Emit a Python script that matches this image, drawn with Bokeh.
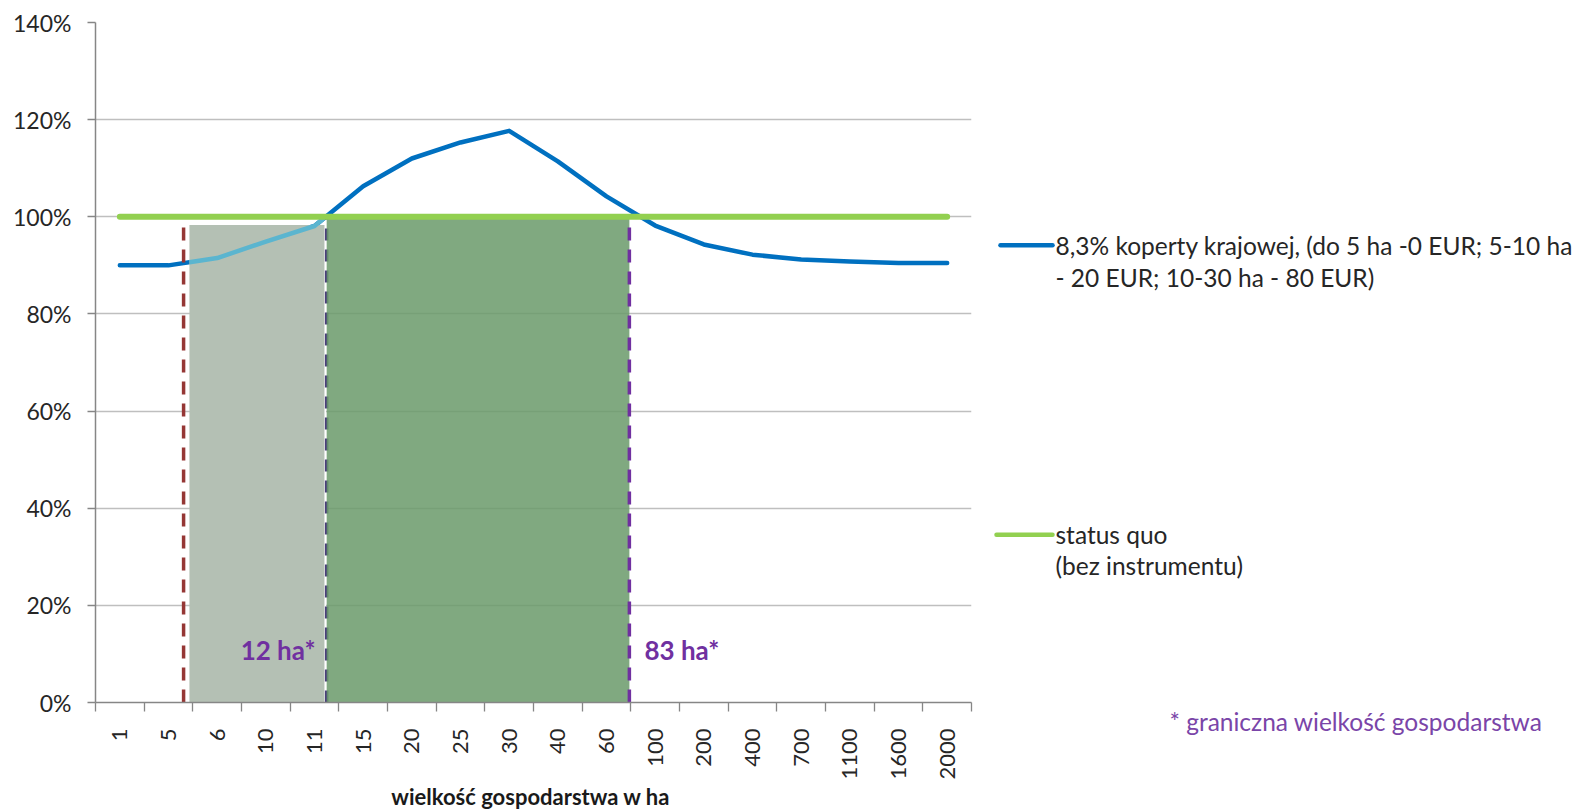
import numpy as np
from bokeh.plotting import figure
from bokeh.layouts import row
from bokeh.models import Range1d, FixedTicker, NumeralTickFormatter, Title
from bokeh.core.properties import value
from bokeh.embed import file_html
from bokeh.resources import INLINE

# ---------------- data ----------------
categories = ["1", "5", "6", "10", "11", "15", "20", "25", "30", "40", "60",
              "100", "200", "400", "700", "1100", "1600", "2000"]
koperta = [0.900, 0.900, 0.915, 0.949, 0.981, 1.063, 1.120, 1.153, 1.177, 1.114,
           1.042, 0.982, 0.943, 0.922, 0.912, 0.908, 0.905, 0.905]
status_quo = [1.0, 1.0, 1.0, 1.0, 1.0, 1.0, 1.0, 1.0, 1.0, 1.0,
              1.0, 1.0, 1.0, 1.0, 1.0, 1.0, 1.0, 1.0]
y_ticks = [0.0, 0.2, 0.4, 0.6, 0.8, 1.0, 1.2, 1.4]

# threshold positions on the category axis (category index units)
thr_5ha = 1.81
thr_12ha = 4.75
thr_83ha = 10.97
light_zone = (1.93, 4.72, 0.983)   # left, right, top
green_zone = (4.75, 10.97, 1.0)
label_y = 0.109
label_12_x = 4.52
label_83_x = 11.28

legend_series = ["8,3% koperty krajowej, (do 5 ha -0 EUR; 5-10 ha",
                 "- 20 EUR; 10-30 ha - 80 EUR)"]
legend_sq = ["status quo", "(bez instrumentu)"]
footnote = "* graniczna wielkość gospodarstwa"
x_title = "wielkość gospodarstwa  w ha"

FONT = "Lato"
BLUE = "#0070C0"
GREEN = "#92D050"
PURPLE = "#7030A0"
RED = "#953735"
TXT = "#262626"

H = 812
W_MAIN = 985
W_LEG = 590
FRAME_TOP = 22
FRAME_BOTTOM = 703

n = len(categories)
centers = np.arange(n) + 0.5

p = figure(width=W_MAIN, height=H, output_backend="svg", toolbar_location=None,
           x_range=Range1d(0, n), y_range=Range1d(0, 1.4),
           min_border_left=95, min_border_right=W_MAIN - 971, min_border_top=FRAME_TOP,
           min_border_bottom=H - FRAME_BOTTOM)
p.outline_line_color = None
p.background_fill_color = "white"
p.border_fill_color = "white"

# grid
p.xgrid.visible = False
p.ygrid.ticker = FixedTicker(ticks=y_ticks)
p.ygrid.grid_line_color = "#BFBFBF"
p.ygrid.grid_line_width = 1.3

# y axis
p.yaxis.ticker = FixedTicker(ticks=y_ticks, minor_ticks=[])
p.yaxis.formatter = NumeralTickFormatter(format="0%")
p.yaxis.major_tick_out = 8
p.yaxis.major_tick_in = 0
p.yaxis.minor_tick_line_color = None
p.yaxis.axis_line_color = "#868686"
p.yaxis.axis_line_width = 1.5
p.yaxis.major_tick_line_color = "#868686"
p.yaxis.major_tick_line_width = 1.3
p.yaxis.major_label_text_font = FONT
p.yaxis.major_label_text_font_size = "23px"
p.yaxis.major_label_text_color = TXT
p.yaxis.major_label_standoff = 16

# x axis: labels at category centers, tick marks between categories
p.xaxis.ticker = FixedTicker(ticks=list(centers), minor_ticks=list(range(n + 1)))
p.xaxis.major_label_overrides = {float(c): lab for c, lab in zip(centers, categories)}
p.xaxis.major_label_orientation = np.pi / 2
p.xaxis.major_tick_out = 0
p.xaxis.major_tick_in = 0
p.xaxis.major_tick_line_color = None
p.xaxis.minor_tick_out = 9
p.xaxis.minor_tick_in = 0
p.xaxis.minor_tick_line_color = "#868686"
p.xaxis.minor_tick_line_width = 1.3
p.xaxis.axis_line_color = "#868686"
p.xaxis.axis_line_width = 1.5
p.xaxis.major_label_text_font = FONT
p.xaxis.major_label_text_font_size = "22px"
p.xaxis.major_label_text_color = TXT
p.xaxis.major_label_standoff = 17
p.xaxis.axis_label = x_title
p.xaxis.axis_label_text_font = FONT
p.xaxis.axis_label_text_font_style = "bold"
p.xaxis.axis_label_text_font_size = "22px"
p.xaxis.axis_label_text_color = "#1a1a1a"
p.xaxis.axis_label_standoff = 0

# main series
p.line(centers, koperta, line_color=BLUE, line_width=4.5, line_join="round", line_cap="round")

# light shaded zone (line shows lighter through it)
p.quad(left=[light_zone[0]], right=[light_zone[1]], bottom=[0], top=[light_zone[2]],
       fill_color="#B4C0B4", line_color=None)
inside = centers[(centers > light_zone[0]) & (centers < light_zone[1])]
seg_x = np.concatenate([[light_zone[0]], inside, [light_zone[1]]])
seg_y = np.interp(seg_x, centers, koperta)
p.line(seg_x, seg_y, line_color="#5BB5CF", line_width=4.5, line_join="round")
p.segment(x0=[light_zone[1]], y0=[0], x1=[light_zone[1]], y1=[light_zone[2]],
          line_color="white", line_width=1.5)

# 12 ha threshold (seen through the fill)
p.segment(x0=[thr_12ha], y0=[0], x1=[thr_12ha], y1=[1.0], line_color="#4A3F7A",
          line_width=3.5, line_dash="12 9")

# green zone
p.quad(left=[green_zone[0]], right=[green_zone[1]], bottom=[0], top=[green_zone[2]],
       fill_color="#6A9A6A", fill_alpha=0.85, line_color=None)

# status quo line
p.line(centers, status_quo, line_color=GREEN, line_width=6, line_cap="round")

# 5 ha and 83 ha threshold lines
p.segment(x0=[thr_5ha], y0=[0], x1=[thr_5ha], y1=[0.995], line_color=RED,
          line_width=3.5, line_dash="13 9")
p.segment(x0=[thr_83ha], y0=[0], x1=[thr_83ha], y1=[0.995], line_color=PURPLE,
          line_width=3.5, line_dash="13 9")

# threshold labels
p.text(x=[label_12_x], y=[label_y], text=["12 ha*"], text_align="right", text_baseline="middle",
       text_font=value(FONT), text_font_style="bold", text_font_size="26px", text_color=PURPLE)
p.text(x=[label_83_x], y=[label_y], text=["83 ha*"], text_align="left", text_baseline="middle",
       text_font=value(FONT), text_font_style="bold", text_font_size="26px", text_color=PURPLE)

# ---------------- legend panel (page-pixel coordinates, frame aligned with main frame) ----------------
q = figure(width=W_LEG, height=H, output_backend="svg", toolbar_location=None,
           x_axis_type=None, y_axis_type=None,
           x_range=Range1d(0, W_LEG), y_range=Range1d(FRAME_BOTTOM, FRAME_TOP),
           min_border_left=0, min_border_right=0, min_border_top=FRAME_TOP,
           min_border_bottom=H - FRAME_BOTTOM)
q.outline_line_color = None
q.grid.visible = False
q.background_fill_color = "white"
q.border_fill_color = "white"

q.line([15, 67], [245, 245], line_color=BLUE, line_width=4.5, line_cap="round")
q.text(x=[70, 70], y=[245, 277], text=legend_series, text_align="left", text_baseline="middle",
       text_font=value(FONT), text_font_size="24.5px", text_color=TXT)
q.line([11, 67], [535, 535], line_color=GREEN, line_width=4.5, line_cap="round")
q.text(x=[70, 70], y=[535, 566], text=legend_sq, text_align="left", text_baseline="middle",
       text_font=value(FONT), text_font_size="24.5px", text_color=TXT)

q.add_layout(Title(text=footnote, align="left", offset=184, vertical_align="top",
                   text_font=FONT, text_font_style="normal", text_font_size="24.5px",
                   text_color="#7A45A8", standoff=8), "below")

layout = row(p, q, spacing=0)
open("out.html", "w").write(file_html(layout, INLINE))
